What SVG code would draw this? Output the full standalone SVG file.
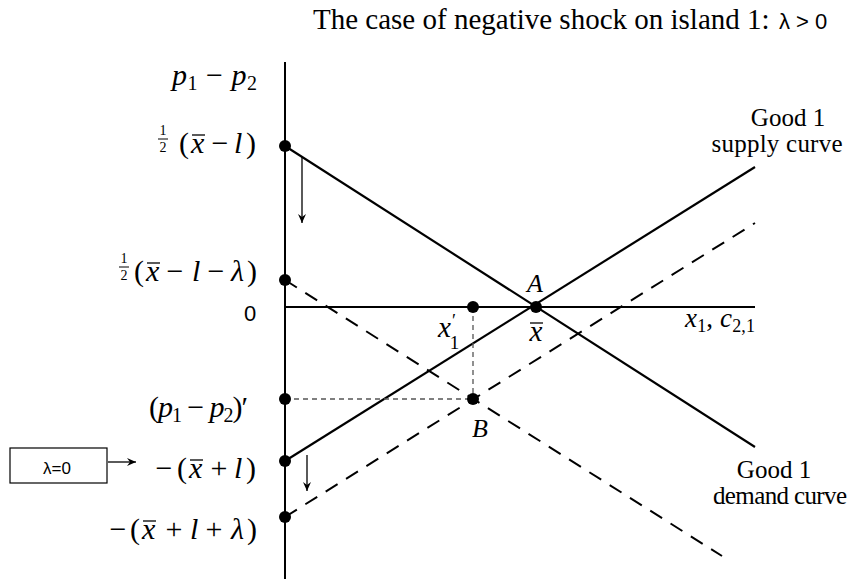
<svg xmlns="http://www.w3.org/2000/svg" width="850" height="579" viewBox="0 0 850 579">
<style>
.ax{stroke:#000;stroke-width:2;fill:none}
.sl{stroke:#000;stroke-width:2.2;fill:none}
.dl{stroke:#000;stroke-width:2;fill:none;stroke-dasharray:14,10}
.gd{stroke:#555;stroke-width:1.3;fill:none;stroke-dasharray:5,4}
.ar{stroke:#000;stroke-width:1.3;fill:none}
.bar{stroke:#000;stroke-width:1.3;fill:none}
.fb{stroke:#000;stroke-width:1;fill:none}
.dot{fill:#000}
.m{font-family:"Liberation Serif","Times New Roman",serif;font-style:italic;font-size:30px;fill:#000}
.n{font-family:"Liberation Serif","Times New Roman",serif;font-style:normal;font-size:30px;fill:#000}
.r{font-family:"Liberation Serif","Times New Roman",serif;font-size:25px;fill:#000}
.s{font-family:"Liberation Sans",Arial,sans-serif;font-size:20px;fill:#000}
.fr{font-family:"Liberation Serif",serif;font-size:14px;fill:#000}
.up{font-style:normal}
</style>
<defs>
<marker id="ah" markerWidth="10" markerHeight="10" refX="9" refY="5" orient="auto" markerUnits="userSpaceOnUse">
<path d="M0,1 L9,5 L0,9 L3,5 Z" fill="#000"/>
</marker>
</defs>
<g id="title"><text x="313" y="29" class="r" style="font-size:29px">The case of negative shock on island 1: <tspan x="779" class="s" style="font-size:22px">λ &gt; 0</tspan></text></g>
<g id="axes">
<line x1="285" y1="62" x2="285" y2="579" class="ax"/>
<line x1="285" y1="307" x2="755" y2="307" class="ax"/>
</g>
<g id="connectors">
<line x1="285" y1="146" x2="755" y2="447" class="sl"/>
<line x1="285" y1="461" x2="755" y2="167" class="sl"/>
<line x1="285" y1="280" x2="722" y2="556" class="dl"/>
<line x1="285" y1="517" x2="755" y2="223" class="dl"/>
<line x1="473" y1="307" x2="473" y2="399" class="gd"/>
<line x1="285" y1="399" x2="473" y2="399" class="gd"/>
<line x1="302" y1="157" x2="302" y2="223" class="ar" marker-end="url(#ah)"/>
<line x1="307" y1="455" x2="307" y2="491" class="ar" marker-end="url(#ah)"/>
<line x1="108" y1="462" x2="136" y2="462" class="ar" marker-end="url(#ah)"/>
</g>
<g id="points">
<circle cx="285" cy="146" r="6" class="dot"/>
<circle cx="285" cy="280" r="6" class="dot"/>
<circle cx="285" cy="399" r="6" class="dot"/>
<circle cx="285" cy="461" r="6" class="dot"/>
<circle cx="285" cy="517" r="6" class="dot"/>
<circle cx="473" cy="307" r="6" class="dot"/>
<circle cx="536" cy="307" r="6" class="dot"/>
<circle cx="473" cy="399" r="6" class="dot"/>
</g>
<g id="label-p1p2"><text x="257" y="85" class="m" text-anchor="end" textLength="85" lengthAdjust="spacing">p<tspan class="up" font-size="20" dy="5">1</tspan><tspan class="up" dy="-5"> − </tspan>p<tspan class="up" font-size="20" dy="5">2</tspan></text></g>
<g id="label-top">
<text x="163" y="135" class="fr" text-anchor="middle">1</text>
<line x1="158" y1="139" x2="168" y2="139" class="fb"/>
<text x="163" y="152" class="fr" text-anchor="middle">2</text>
<text x="179" y="153" class="n">(</text>
<text x="191" y="153" class="m">x</text>
<line x1="192" y1="135" x2="205" y2="135" class="bar"/>
<text x="220" y="153" class="n" text-anchor="middle">−</text>
<text x="234" y="153" class="m">l</text>
<text x="246" y="153" class="n">)</text>
</g>
<g id="label-mid">
<text x="124" y="263" class="fr" text-anchor="middle">1</text>
<line x1="119" y1="267" x2="129" y2="267" class="fb"/>
<text x="124" y="280" class="fr" text-anchor="middle">2</text>
<text x="134" y="281" class="n">(</text>
<text x="146" y="281" class="m">x</text>
<line x1="147" y1="263" x2="160" y2="263" class="bar"/>
<text x="175" y="281" class="n" text-anchor="middle">−</text>
<text x="192" y="281" class="m">l</text>
<text x="216" y="281" class="n" text-anchor="middle">−</text>
<text x="231" y="281" class="m">λ</text>
<text x="247" y="281" class="n">)</text>
</g>
<g id="label-zero"><text x="250" y="321" class="s" style="font-size:22px" text-anchor="middle">0</text></g>
<g id="label-pprime"><text x="248" y="417" class="m" text-anchor="end" textLength="99" lengthAdjust="spacing"><tspan class="up">(</tspan>p<tspan class="up" font-size="20" dy="5">1</tspan><tspan class="up" dy="-5"> − </tspan>p<tspan class="up" font-size="20" dy="5">2</tspan><tspan class="up" dy="-5">)′</tspan></text></g>
<g id="label-xl">
<text x="164" y="478" class="n" text-anchor="middle">−</text>
<text x="177" y="478" class="n">(</text>
<text x="189" y="478" class="m">x</text>
<line x1="190" y1="460" x2="203" y2="460" class="bar"/>
<text x="219" y="478" class="n" text-anchor="middle">+</text>
<text x="234" y="478" class="m">l</text>
<text x="246" y="478" class="n">)</text>
</g>
<g id="label-xll">
<text x="118" y="539" class="n" text-anchor="middle">−</text>
<text x="130" y="539" class="n">(</text>
<text x="142" y="539" class="m">x</text>
<line x1="143" y1="521" x2="156" y2="521" class="bar"/>
<text x="174" y="539" class="n" text-anchor="middle">+</text>
<text x="190" y="539" class="m">l</text>
<text x="214" y="539" class="n" text-anchor="middle">+</text>
<text x="231" y="539" class="m">λ</text>
<text x="247" y="539" class="n">)</text>
</g>
<g id="box">
<rect x="10" y="448" width="97" height="35" fill="#fff" stroke="#000" stroke-width="1.2"/>
<text x="57" y="474" class="s" style="font-size:17px" text-anchor="middle">λ=0</text>
</g>
<g id="label-A"><text x="535" y="292" class="m" style="font-size:26px" text-anchor="middle">A</text></g>
<g id="label-xbar">
<text x="536" y="341" class="m" style="font-size:29px" text-anchor="middle">x</text>
<line x1="530" y1="323" x2="543" y2="323" class="bar"/>
</g>
<g id="label-x1p"><text x="438" y="337" class="m" style="font-size:29px">x<tspan class="up" font-size="18" dx="1" dy="-10">′</tspan><tspan class="up" font-size="19" dx="-6" dy="22">1</tspan></text></g>
<g id="label-B"><text x="480" y="437" class="m" style="font-size:26px" text-anchor="middle">B</text></g>
<g id="label-x1c"><text x="685" y="327" class="m" style="font-size:27px" textLength="70" lengthAdjust="spacing">x<tspan class="up" font-size="18" dy="5">1</tspan><tspan class="up" dy="-5">, </tspan>c<tspan class="up" font-size="18" dy="5">2,1</tspan></text></g>
<g id="label-supply">
<text x="788" y="126" class="r" text-anchor="middle">Good 1</text>
<text x="777" y="152" class="r" text-anchor="middle" textLength="131" lengthAdjust="spacing">supply curve</text>
</g>
<g id="label-demand">
<text x="774" y="478" class="r" text-anchor="middle">Good 1</text>
<text x="780" y="504" class="r" text-anchor="middle" textLength="134" lengthAdjust="spacing">demand curve</text>
</g>
</svg>
